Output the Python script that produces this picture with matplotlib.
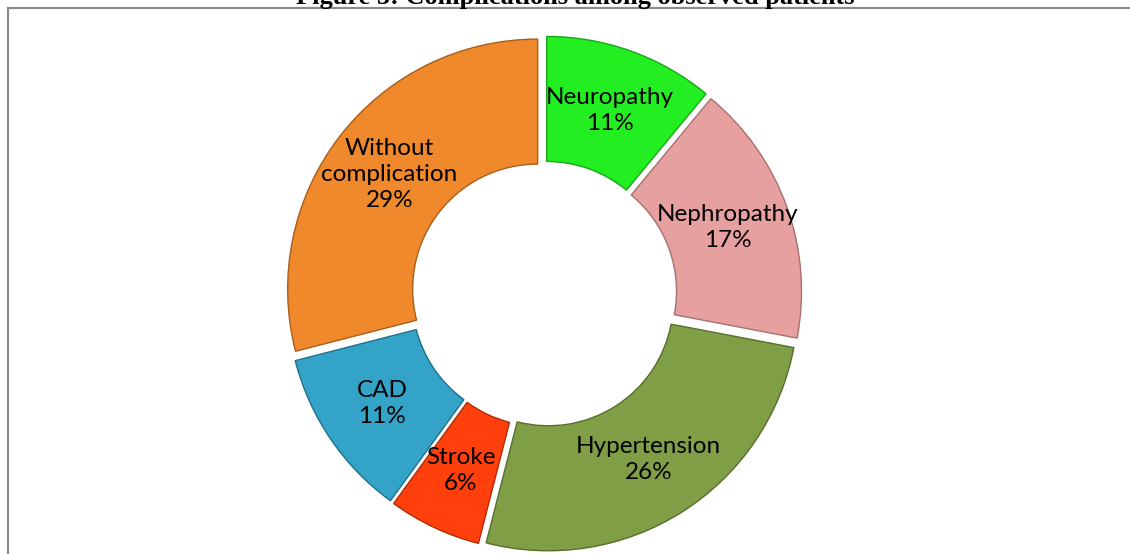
import matplotlib
matplotlib.use("Agg")
from matplotlib import pyplot as plt
from matplotlib.patches import Rectangle
import numpy as np

# data
categories = ["Neuropathy", "Nephropathy", "Hypertension", "Stroke", "CAD",
              "Without\ncomplication"]
percents = [11, 17, 26, 6, 11, 29]
colors = ["#22EE22", "#E6A09F", "#7F9E45", "#FF400C", "#33A3C8", "#F0882C"]
edges = ["#18A818", "#A87070", "#586E2E", "#B02C06", "#21708C", "#A85E1C"]

W, H = 1130, 554
fig = plt.figure(figsize=(W / 100, H / 100), dpi=100)

# frame around chart area (right and bottom edges fall outside the image)
fig.add_artist(Rectangle((7.5 / W, -0.1), 1.2, 1 - 8.5 / H + 0.1,
                         transform=fig.transFigure, fill=False,
                         edgecolor="#8C8C8C", linewidth=1.6))

fig.text(575 / W, 1 - 4 / H, "Figure 5: Complications among observed patients",
         ha="center", va="baseline", fontsize=19, fontweight="bold",
         family="Liberation Serif")

# pie axes placed so the donut centre lands at (544, 294) px, radius 250 px
R_px = 250
half = 1.2 * R_px
cx, cy = 544, H - 294
ax = fig.add_axes([(cx - half) / W, (cy - half) / H, 2 * half / W, 2 * half / H])

explode = [0.032] * len(percents)
wedges, _ = ax.pie(percents, colors=colors, startangle=90, counterclock=False,
                   explode=explode, radius=1.0,
                   wedgeprops=dict(width=0.5, linewidth=1.0))
# pie() resets the limits, so set them afterwards
ax.set_xlim(-1.2, 1.2)
ax.set_ylim(-1.2, 1.2)
ax.set_aspect("equal")
ax.axis("off")

for w, ec in zip(wedges, edges):
    w.set_edgecolor(ec)

for w, name, p in zip(wedges, categories, percents):
    mid = np.deg2rad((w.theta1 + w.theta2) / 2)
    x0, y0 = w.center
    r = 0.75
    ax.text(x0 + r * np.cos(mid), y0 + r * np.sin(mid), f"{name}\n{p}%",
            ha="center", va="center", fontsize=17.5, family="Lato",
            linespacing=1.3, color="black")

fig.savefig("out.png", dpi=100)
